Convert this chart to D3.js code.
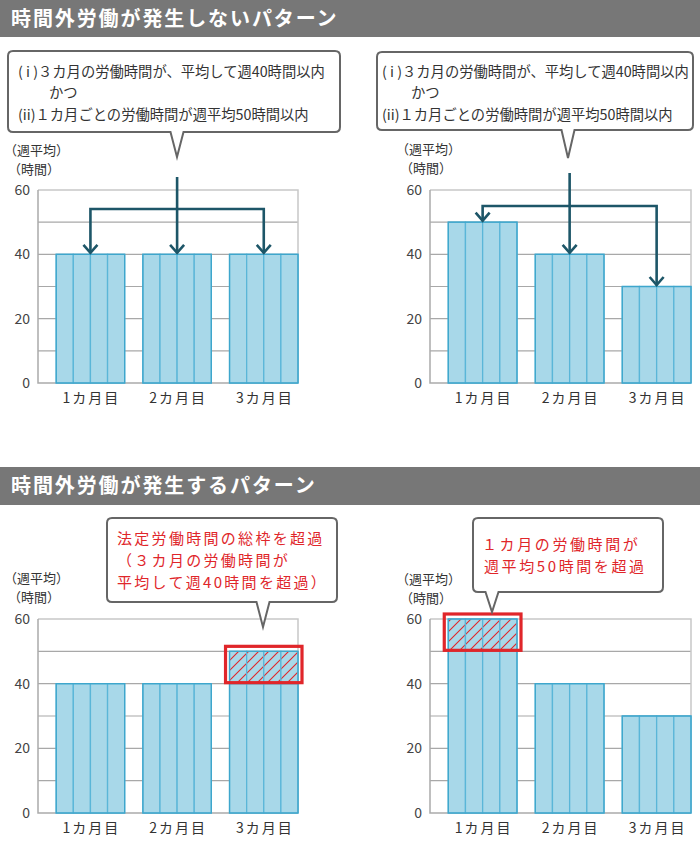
<!DOCTYPE html>
<html><head><meta charset="utf-8">
<script src="https://cdn.jsdelivr.net/npm/d3@7"></script>
<style>
html,body{margin:0;padding:0;background:#fff;}
svg{display:block;font-family:"Noto Sans CJK JP","Noto Sans",sans-serif;}
</style></head>
<body><svg id="c" width="700" height="843"></svg>
<script>
// ---- data ----
const categories = ["1カ月目", "2カ月目", "3カ月目"];
const weeksPerMonth = 4;
const yTicks = [0, 20, 40, 60];
const gridTicks = [10, 20, 30, 40, 50, 60];
const yMax = 60;
const okEqualValues = [40, 40, 40];
const okVariedValues = [50, 40, 30];
const ngTotalBase = [40, 40, 40];
const ngTotalExcess = [0, 0, 10];
const ngMonthBase = [50, 40, 30];
const ngMonthExcess = [10, 0, 0];
const headers = ["時間外労働が発生しないパターン", "時間外労働が発生するパターン"];
const yTitle = ["（週平均）", "（時間）"];
const calloutOk = ["( i )３カ月の労働時間が、平均して週40時間以内", "かつ", "(ii)１カ月ごとの労働時間が週平均50時間以内"];
const calloutNgTotal = ["法定労働時間の総枠を超過", "（３カ月の労働時間が", "平均して週40時間を超過）"];
const calloutNgMonth = ["１カ月の労働時間が", "週平均50時間を超過"];

// ---- style ----
const C = {
  header: "#777777", barFill: "#a8d8e9", barStroke: "#3ea6cc", divider: "#5ab6d8",
  grid: "#a8a8a8", frame: "#c8c8c8", text: "#333", arrow: "#1d5668", red: "#e0262a",
  callout: "#666"
};

const svg = d3.select("#c");
const defs = svg.append("defs");
const pat = defs.append("pattern").attr("id", "hatch").attr("patternUnits", "userSpaceOnUse")
  .attr("width", 10).attr("height", 10);
pat.append("rect").attr("width", 10).attr("height", 10).attr("fill", C.barFill);
pat.append("path").attr("d", "M0,10 L10,0 M-5,5 L5,-5 M5,15 L15,5")
  .attr("stroke", C.red).attr("stroke-width", 1.1);

// headers
[[0, 37, 26], [467, 38, 493]].forEach(([y, h, by], i) => {
  svg.append("rect").attr("x", 0).attr("y", y).attr("width", 700).attr("height", h).attr("fill", C.header);
  svg.append("text").attr("x", 11).attr("y", by).attr("fill", "#fff")
    .attr("font-size", 20).attr("font-weight", "bold").attr("letter-spacing", 1.9)
    .text(headers[i]);
});

function callout(x, y, w, h, tipX, tipY, half) {
  const r = 5, b = y + h;
  const p = `M${x + r},${y} H${x + w - r} Q${x + w},${y} ${x + w},${y + r} V${b - r} Q${x + w},${b} ${x + w - r},${b}
    H${tipX + half} L${tipX},${tipY} L${tipX - half},${b} H${x + r} Q${x},${b} ${x},${b - r} V${y + r} Q${x},${y} ${x + r},${y} Z`;
  svg.append("path").attr("d", p).attr("fill", "#fff").attr("stroke", C.callout).attr("stroke-width", 2);
}

function drawPanel(cfg) {
  const g = svg.append("g");
  const x = d3.scaleBand().domain(categories).range([cfg.x0, cfg.x1]);
  const y = d3.scaleLinear().domain([0, yMax]).range([cfg.y1, cfg.y0]);
  const bw = x.bandwidth() * 0.79;
  const bx = c => x(c) + x.bandwidth() - bw;

  // grid
  g.selectAll(".grid").data(gridTicks.slice(0, -1)).join("line")
    .attr("x1", cfg.x0).attr("x2", cfg.x1).attr("y1", d => y(d)).attr("y2", d => y(d))
    .attr("stroke", C.grid).attr("stroke-width", 1.2);
  // frame
  g.append("path").attr("d", `M${cfg.x0},${y(yMax)} H${cfg.x1} V${y(0)}`)
    .attr("fill", "none").attr("stroke", C.frame).attr("stroke-width", 1.5);
  g.append("path").attr("d", `M${cfg.x0},${y(yMax)} V${y(0)} H${cfg.x1}`)
    .attr("fill", "none").attr("stroke", "#aaa").attr("stroke-width", 1.5);

  // y labels via axis
  const ax = g.append("g").attr("transform", `translate(${cfg.x0},0)`)
    .call(d3.axisLeft(y).tickValues(yTicks).tickSize(0).tickPadding(8));
  ax.select(".domain").remove();
  ax.selectAll("text").attr("font-size", 14).attr("fill", "#444")
    .attr("font-family", "'Noto Sans CJK JP','Noto Sans',sans-serif");

  // y title
  g.append("text").attr("x", cfg.x0 - 34).attr("y", cfg.titleY).attr("font-size", 13).attr("fill", C.text).text(yTitle[0]);
  g.append("text").attr("x", cfg.x0 - 30).attr("y", cfg.titleY + 19).attr("font-size", 13).attr("fill", C.text).text(yTitle[1]);

  // x labels
  g.selectAll(".xl").data(categories).join("text")
    .attr("x", c => bx(c) + bw / 2 + 1).attr("y", y(0) + 20)
    .attr("text-anchor", "middle").attr("font-size", 14).attr("letter-spacing", 2).attr("fill", C.text)
    .text(c => c);

  // bars
  const segW = bw / weeksPerMonth;
  categories.forEach((c, i) => {
    const base = cfg.base[i];
    const ex = cfg.excess ? cfg.excess[i] : 0;
    for (let k = 0; k < weeksPerMonth; k++) {
      g.append("rect").attr("x", bx(c) + k * segW).attr("y", y(base)).attr("width", segW)
        .attr("height", y(0) - y(base)).attr("fill", C.barFill).attr("stroke", C.divider).attr("stroke-width", 1.3);
      if (ex > 0) {
        g.append("rect").attr("x", bx(c) + k * segW).attr("y", y(base + ex)).attr("width", segW)
          .attr("height", y(base) - y(base + ex)).attr("fill", "url(#hatch)").attr("stroke", C.divider).attr("stroke-width", 1.3);
      }
    }
    g.append("rect").attr("x", bx(c)).attr("y", y(base + ex)).attr("width", bw)
      .attr("height", y(0) - y(base + ex)).attr("fill", "none").attr("stroke", C.barStroke).attr("stroke-width", 1.3);
    if (ex > 0) {
      g.append("rect").attr("x", bx(c) - 4).attr("y", y(base + ex) - 5).attr("width", bw + 8)
        .attr("height", y(base) - y(base + ex) + 4).attr("fill", "none").attr("stroke", C.red).attr("stroke-width", 3.2);
    }
  });

  // arrows
  if (cfg.arrows) {
    const cx = c => bx(c) + bw / 2;
    const hy = y(yMax) + cfg.bracketOffset;
    const a = g.append("g").attr("fill", "none").attr("stroke", C.arrow).attr("stroke-width", 2.6);
    const mid = categories[1];
    a.append("path").attr("d", `M${cx(mid)},${cfg.arrowStart} V${y(cfg.base[1]) - 1}`);
    a.append("path").attr("d", `M${cx(categories[0])},${y(cfg.base[0]) - 1} V${hy} H${cx(categories[2])} V${y(cfg.base[2]) - 1}`);
    categories.forEach((c, i) => {
      const ty = y(cfg.base[i]) - 1.5;
      a.append("path").attr("d", `M${cx(c) - 7},${ty - 8} L${cx(c)},${ty} L${cx(c) + 7},${ty - 8}`);
    });
  }
}

drawPanel({ x0: 38, x1: 298, y0: 190, y1: 383, titleY: 155, base: okEqualValues, arrows: true, bracketOffset: 19, arrowStart: 177 });
drawPanel({ x0: 430, x1: 691, y0: 190, y1: 383, titleY: 154, base: okVariedValues, arrows: true, bracketOffset: 16, arrowStart: 173 });
drawPanel({ x0: 38, x1: 298, y0: 619, y1: 813, titleY: 583, base: ngTotalBase, excess: ngTotalExcess });
drawPanel({ x0: 430, x1: 691, y0: 619, y1: 813, titleY: 584, base: ngMonthBase, excess: ngMonthExcess });

// callouts
function lines(arr, xs, ys, opts) {
  arr.forEach((t, i) => {
    svg.append("text").attr("x", xs[i]).attr("y", ys[i]).attr("font-size", opts.size)
      .attr("letter-spacing", opts.ls || 0).attr("fill", opts.color).text(t);
  });
}
callout(8, 51, 332, 81, 177, 157, 6.5);
lines(calloutOk, [18, 49, 18], [77, 98, 120], { size: 14.3, color: C.text });
callout(377, 52, 316, 78, 568, 158, 6.5);
lines(calloutOk, [382, 411, 382], [77, 98, 120], { size: 14.3, color: C.text });
callout(107, 518, 230, 84, 263, 627, 6.5);
lines(calloutNgTotal, [117, 117, 117], [544, 566, 588], { size: 15, ls: 2.3, color: C.red });
callout(473, 518, 190, 74, 492, 612, 6.5);
lines(calloutNgMonth, [482, 484], [550, 572], { size: 15, ls: 2.6, color: C.red });
</script></body></html>
